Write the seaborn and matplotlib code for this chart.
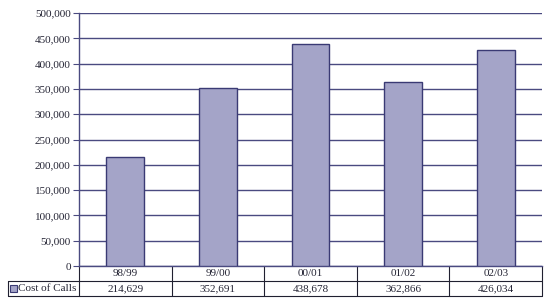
import matplotlib
matplotlib.use("Agg")
import matplotlib.pyplot as plt
import seaborn as sns
import pandas as pd
from matplotlib.patches import Rectangle
from matplotlib.lines import Line2D
from matplotlib.ticker import FuncFormatter, MultipleLocator

categories = ["98/99", "99/00", "00/01", "01/02", "02/03"]
cost_of_calls = [214629, 352691, 438678, 362866, 426034]
series_name = "Cost of Calls"

BAR = "#A4A4C8"
EDGE = "#3A3A74"
GRID = "#4A4A80"
TXT = "#252535"
TBL = "#202030"

sns.set_theme(style="white")
plt.rcParams["font.family"] = ["Liberation Serif", "DejaVu Serif"]

fig = plt.figure(figsize=(5.55, 3.05), dpi=100)
W, H = 555, 305
left, right, top, bottom = 79, 542, 13, 266
ax = fig.add_axes([left / W, 1 - bottom / H, (right - left) / W, (bottom - top) / H])

df = pd.DataFrame({"cat": categories, "val": cost_of_calls})
sns.barplot(data=df, x="cat", y="val", color=BAR, saturation=1, width=0.41,
            edgecolor=EDGE, linewidth=1.0, ax=ax, zorder=3)

ax.set_ylim(0, 500000)
ax.set_xlim(-0.5, len(categories) - 0.5)
ax.yaxis.set_major_locator(MultipleLocator(50000))
ax.yaxis.set_major_formatter(FuncFormatter(lambda v, p: f"{int(v):,}"))
ax.grid(axis="y", color=GRID, linewidth=1.0)
ax.set_axisbelow(True)
ax.set_xlabel("")
ax.set_ylabel("")
ax.set_xticks([])
for s in ["top", "right"]:
    ax.spines[s].set_visible(False)
for s in ["left", "bottom"]:
    ax.spines[s].set_color(GRID)
    ax.spines[s].set_linewidth(1.0)
ax.tick_params(axis="y", left=True, length=4, width=0.8, color=GRID,
               labelsize=8, labelcolor=TXT, pad=2)

# data table drawn below the axes
pw = right - left
ph = bottom - top
lab_w = (left - 8) / pw
row_h = 15 / ph
n = len(categories)
tr = ax.transAxes

def seg(x0, y0, x1, y1):
    ax.add_line(Line2D([x0, x1], [y0, y1], transform=tr, color=TBL,
                       linewidth=0.8, clip_on=False))

seg(0, -row_h, 1, -row_h)
seg(-lab_w, -row_h, 0, -row_h)
seg(-lab_w, -2 * row_h, 1, -2 * row_h)
seg(0, 0, 0, -2 * row_h)
seg(-lab_w, -row_h, -lab_w, -2 * row_h)
for k in range(1, n + 1):
    seg(k / n, 0, k / n, -2 * row_h)

for i, (c, v) in enumerate(zip(categories, cost_of_calls)):
    xc = (i + 0.5) / n
    ax.text(xc, -0.5 * row_h, c, transform=tr, ha="center", va="center",
            fontsize=8, color=TXT, clip_on=False)
    ax.text(xc, -1.5 * row_h, f"{v:,}", transform=tr, ha="center", va="center",
            fontsize=8, color=TXT, clip_on=False)

ax.text(-lab_w + 10 / pw, -1.5 * row_h, series_name, transform=tr, ha="left",
        va="center", fontsize=8, color=TXT, clip_on=False)
ax.add_patch(Rectangle((-lab_w + 2 / pw, -1.5 * row_h - 3.5 / ph), 7 / pw, 7 / ph,
                       transform=tr, facecolor=BAR, edgecolor=EDGE,
                       linewidth=0.8, clip_on=False))

fig.savefig("out.png", dpi=100)
